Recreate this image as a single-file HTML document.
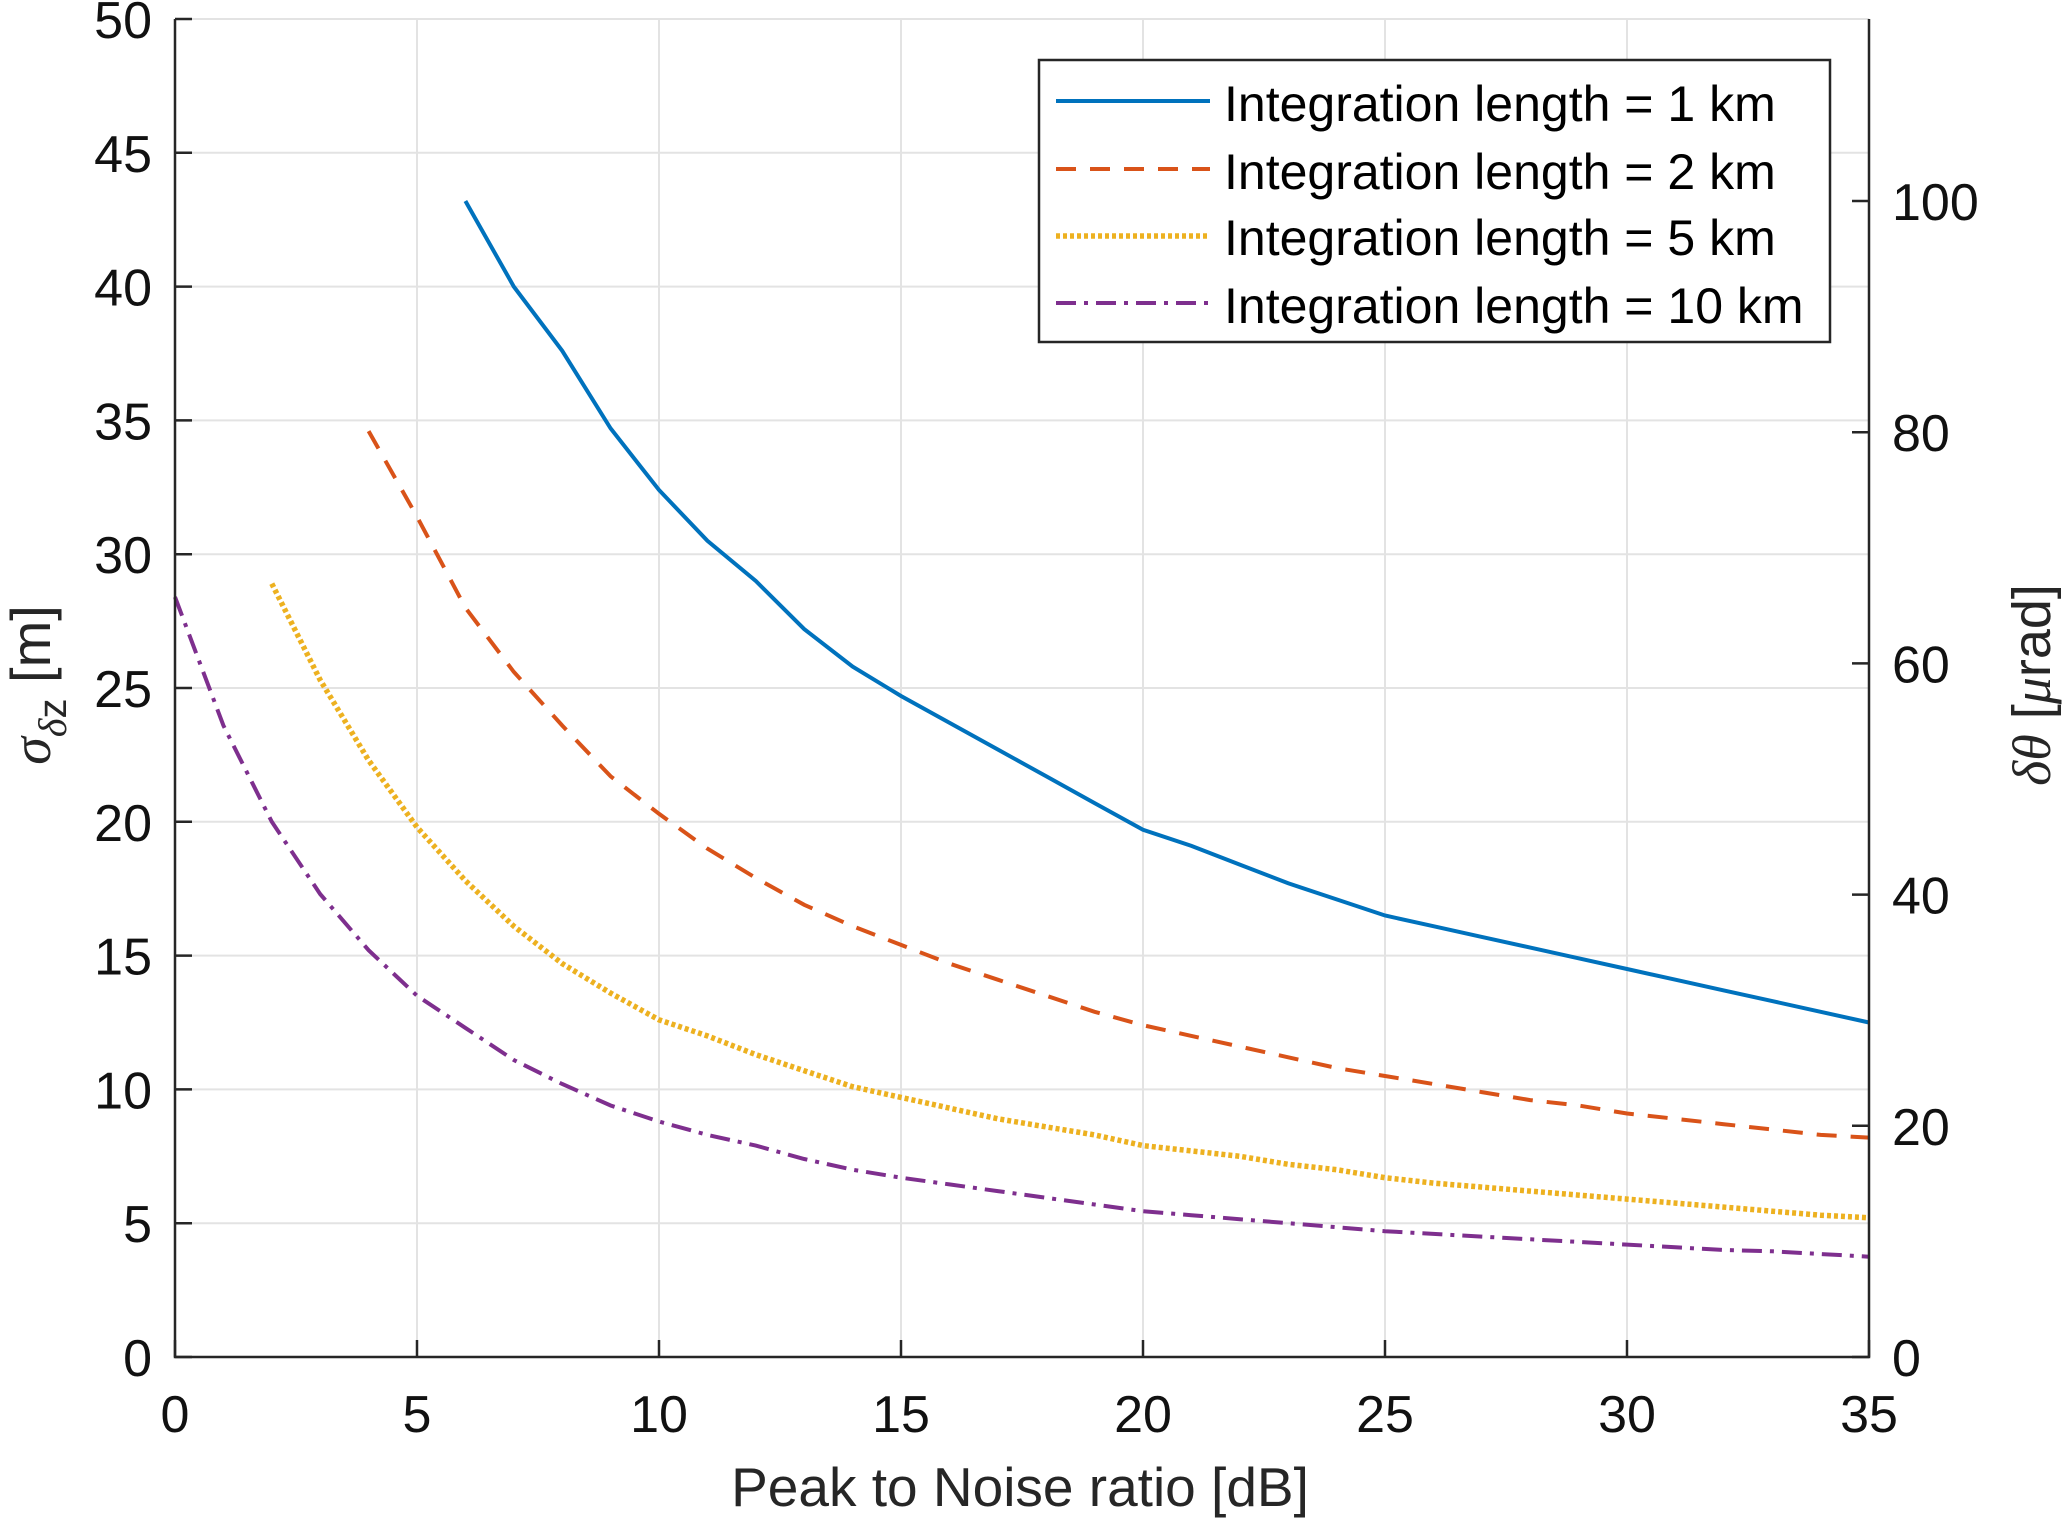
<!DOCTYPE html>
<html><head><meta charset="utf-8"><style>body{margin:0;background:#fff}svg{display:block;font-family:"Liberation Sans",Arial,sans-serif}</style></head>
<body>
<svg id="chart" width="2065" height="1520"></svg>
<script>
const xTicks=[0,5,10,15,20,25,30,35];
const yTicks=[0,5,10,15,20,25,30,35,40,45,50];
const yRightTicks=[0,20,40,60,80,100];
const x1=[6,7,8,9,10,11,12,13,14,15,16,17,18,19,20,21,22,23,24,25,26,27,28,29,30,31,32,33,34,35];
const y1=[43.2,40,37.6,34.7,32.4,30.5,29,27.2,25.8,24.7,23.7,22.7,21.7,20.7,19.7,19.1,18.4,17.7,17.1,16.5,16.1,15.7,15.3,14.9,14.5,14.1,13.7,13.3,12.9,12.5];
const x2=[4,5,6,7,8,9,10,11,12,13,14,15,16,17,18,19,20,21,22,23,24,25,26,27,28,29,30,31,32,33,34,35];
const y2=[34.6,31.4,28,25.6,23.6,21.7,20.3,19.0,17.9,16.9,16.1,15.4,14.7,14.1,13.5,12.9,12.4,12.0,11.6,11.2,10.8,10.5,10.2,9.9,9.6,9.4,9.1,8.9,8.7,8.5,8.3,8.2];
const x5=[2,3,4,5,6,7,8,9,10,11,12,13,14,15,16,17,18,19,20,21,22,23,24,25,26,27,28,29,30,31,32,33,34,35];
const y5=[28.9,25.3,22.3,19.8,17.8,16.1,14.7,13.6,12.6,12.0,11.3,10.7,10.1,9.7,9.3,8.9,8.6,8.3,7.9,7.7,7.5,7.2,7.0,6.7,6.5,6.35,6.2,6.05,5.9,5.75,5.6,5.45,5.3,5.2];
const x10=[0,1,2,3,4,5,6,7,8,9,10,11,12,13,14,15,16,17,18,19,20,21,22,23,24,25,26,27,28,29,30,31,32,33,34,35];
const y10=[28.4,23.6,20.0,17.3,15.2,13.5,12.3,11.1,10.2,9.4,8.8,8.3,7.9,7.4,7.0,6.7,6.45,6.2,5.95,5.7,5.45,5.3,5.15,5.0,4.85,4.7,4.6,4.5,4.4,4.3,4.2,4.1,4.0,3.95,3.85,3.75];

const L=175,R=1869,T=19,B=1357,YMAX=50,YRMAX=115.75;
const sx=v=>L+(R-L)*v/35, sy=v=>B-(B-T)*v/YMAX, syr=v=>B-(B-T)*v/YRMAX;
const svg=document.getElementById('chart');const NS='http://www.w3.org/2000/svg';
function mk(t,a,p){const e=document.createElementNS(NS,t);for(const k in a)e.setAttribute(k,a[k]);(p||svg).appendChild(e);return e;}
for(const v of xTicks){const g=mk('line',{x1:sx(v),x2:sx(v),y1:T,y2:B,stroke:'#e3e3e3','stroke-width':2});

}
for(const v of yTicks){const g=mk('line',{x1:L,x2:R,y1:sy(v),y2:sy(v),stroke:'#e3e3e3','stroke-width':2});

}
const series=[[x1,y1,'#0072bd','',1],[x2,y2,'#d95319','20 14',2],[x5,y5,'#edb120','4 3',5],[x10,y10,'#7e2f8e','20 8 4 8',10]];
for(const s of series){const d=s[0].map((x,i)=>(i?'L':'M')+sx(x).toFixed(1)+','+sy(s[1][i]).toFixed(1)).join('');
const p=mk('path',{d:d,fill:'none',stroke:s[2],'stroke-width':s[4]==5?5.5:4,'stroke-dasharray':s[3]});

}
const ax=mk('path',{d:`M${L},${T}V${B}H${R}V${T}`,fill:'none',stroke:'#262626','stroke-width':2.5});


for(const v of xTicks){mk('line',{x1:sx(v),x2:sx(v),y1:B,y2:B-17,stroke:'#262626','stroke-width':2.5});
const t=mk('text',{x:sx(v),y:1432,'text-anchor':'middle','font-size':52,fill:'#111'});t.textContent=v;

}
for(const v of yTicks){mk('line',{x1:L,x2:L+17,y1:sy(v),y2:sy(v),stroke:'#262626','stroke-width':2.5});
const t=mk('text',{x:152,y:sy(v)+19,'text-anchor':'end','font-size':52,fill:'#111'});t.textContent=v;

}
for(const v of yRightTicks){mk('line',{x1:R,x2:R-17,y1:syr(v),y2:syr(v),stroke:'#262626','stroke-width':2.5});
const t=mk('text',{x:1892,y:syr(v)+19,'text-anchor':'start','font-size':52,fill:'#111'});t.textContent=v;

}
</script>
<svg width="2065" height="1520" style="position:absolute;left:0;top:0">
<text x="1020" y="1506" text-anchor="middle" font-size="55" fill="#262626">Peak to Noise ratio [dB]</text>
<text transform="translate(50,685) rotate(-90)" text-anchor="middle" font-size="56" fill="#262626"><tspan font-family="Liberation Serif" font-style="italic">σ</tspan><tspan font-size="40" dy="16" font-family="Liberation Serif" font-style="italic">δ</tspan><tspan font-size="40">z</tspan><tspan dy="-16"> [m]</tspan></text>
<text transform="translate(2050,685) rotate(-90)" text-anchor="middle" font-size="54" fill="#262626"><tspan font-family="Liberation Serif" font-style="italic">δθ</tspan> [<tspan font-family="Liberation Serif" font-style="italic">μ</tspan>rad]</text>
<g>
<rect x="1039" y="60" width="791" height="282" fill="#fff" stroke="#262626" stroke-width="2.5"/>
<line x1="1056" x2="1210" y1="101" y2="101" stroke="#0072bd" stroke-width="4"/>
<line x1="1056" x2="1210" y1="169" y2="169" stroke="#d95319" stroke-width="4" stroke-dasharray="20 14"/>
<line x1="1056" x2="1210" y1="236" y2="236" stroke="#edb120" stroke-width="5.5" stroke-dasharray="4 3"/>
<line x1="1056" x2="1210" y1="303" y2="303" stroke="#7e2f8e" stroke-width="4" stroke-dasharray="20 8 4 8"/>
<text x="1224" y="121" font-size="50" fill="#000">Integration length = 1 km</text>
<text x="1224" y="189" font-size="50" fill="#000">Integration length = 2 km</text>
<text x="1224" y="255" font-size="50" fill="#000">Integration length = 5 km</text>
<text x="1224" y="323" font-size="50" fill="#000">Integration length = 10 km</text>
</g>
</svg>
</body></html>
